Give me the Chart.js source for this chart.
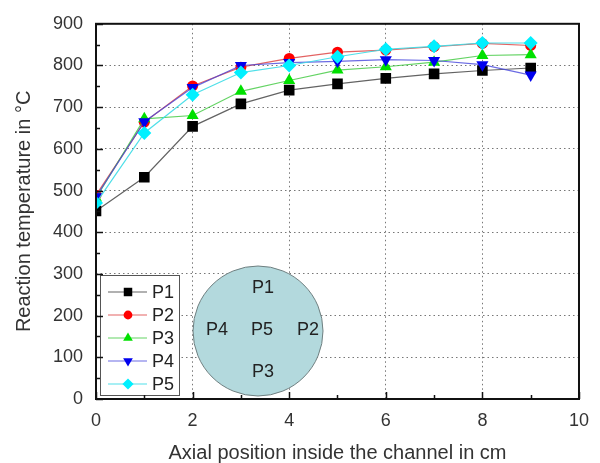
<!DOCTYPE html>
<html>
<head>
<meta charset="utf-8">
<script src="https://cdn.jsdelivr.net/npm/chart.js@4.4.1/dist/chart.umd.min.js"></script>
<style>
  html, body { margin: 0; padding: 0; background: #fff; }
  #wrap { width: 600px; height: 463px; }
</style>
</head>
<body>
<div id="wrap"><canvas id="chartTemp" width="600" height="463"></canvas></div>
<script>
// axial position (cm)
const positions = [0, 1, 2, 3, 4, 5, 6, 7, 8, 9];
const seriesNames = ["P1", "P2", "P3", "P4", "P5"];
const p1 = [451, 532, 654, 708, 741, 756, 769, 780, 788, 794];
const p2 = [489, 664, 751, 796, 817, 832, 837, 845, 853, 848];
const p3 = [482, 672, 680, 738, 764, 789, 797, 808, 824, 826];
const p4 = [485, 665, 747, 800, 807, 810, 814, 812, 802, 777];
const p5 = [470, 638, 730, 783, 800, 821, 839, 846, 854, 854];
const xTicks = [0, 2, 4, 6, 8, 10];
const yTicks = [0, 100, 200, 300, 400, 500, 600, 700, 800, 900];
const circleLabels = ["P1", "P4", "P5", "P2", "P3"];

const FONT = "'Liberation Sans', Arial, sans-serif";

const styles = [
    { line: "rgba(60,60,60,0.8)", fill: "#000000", shape: "rect", radius: 7.5, rot: 0 },
    { line: "rgba(220,60,60,0.8)", fill: "#ff0000", shape: "circle", radius: 5.5, rot: 0 },
    { line: "rgba(60,200,60,0.8)", fill: "#00e000", shape: "triangle", radius: 7, rot: 0 },
    { line: "rgba(70,70,220,0.8)", fill: "#0000ee", shape: "triangle", radius: 7, rot: 180 },
    { line: "rgba(60,220,230,0.9)", fill: "#00f0ff", shape: "rectRot", radius: 7, rot: 0 },
];

function toPoints(vals) {
    return vals.map((v, i) => ({ x: positions[i], y: v }));
}

const allSeries = [p1, p2, p3, p4, p5];
const datasets = allSeries.map((vals, i) => ({
    label: seriesNames[i],
    data: toPoints(vals),
    borderColor: styles[i].line,
    borderWidth: 1.2,
    backgroundColor: styles[i].fill,
    pointBackgroundColor: styles[i].fill,
    pointBorderColor: styles[i].fill,
    pointBorderWidth: 0,
    pointStyle: styles[i].shape,
    pointRotation: styles[i].rot,
    pointRadius: styles[i].radius,
    tension: 0,
    order: 5 - i,
}));

// circle sketch of the channel cross-section and the boxed legend
const overlays = {
    id: "overlays",
    beforeDatasetsDraw(chart) {
        const ctx = chart.ctx;
        ctx.save();
        // cross-section circle
        ctx.beginPath();
        ctx.arc(258, 331, 65, 0, Math.PI * 2);
        ctx.fillStyle = "#b3d9dd";
        ctx.fill();
        ctx.lineWidth = 1;
        ctx.strokeStyle = "#6f7f80";
        ctx.stroke();
        ctx.fillStyle = "#222";
        ctx.font = "18px " + FONT;
        ctx.textAlign = "center";
        ctx.textBaseline = "middle";
        const spots = [[263, 288], [217, 330], [262, 330], [308, 330], [263, 372]];
        circleLabels.forEach((t, i) => ctx.fillText(t, spots[i][0], spots[i][1]));

        // legend box
        ctx.fillStyle = "#fff";
        ctx.fillRect(100, 275, 79, 120);
        ctx.strokeStyle = "#555";
        ctx.lineWidth = 1;
        ctx.strokeRect(100.5, 275.5, 79, 120);
        ctx.textAlign = "left";
        ctx.font = "18px " + FONT;
        datasets.forEach((ds, i) => {
            const y = 292 + i * 23;
            ctx.beginPath();
            ctx.moveTo(108, y);
            ctx.lineTo(147, y);
            ctx.strokeStyle = ds.borderColor;
            ctx.lineWidth = 1.2;
            ctx.stroke();
            ctx.fillStyle = ds.pointBackgroundColor;
            ctx.strokeStyle = ds.pointBackgroundColor;
            Chart.helpers.drawPoint(ctx, {
                pointStyle: ds.pointStyle,
                rotation: ds.pointRotation,
                radius: 0.8 * ds.pointRadius,
                borderWidth: 0,
            }, 128, y);
            ctx.fillStyle = "#222";
            ctx.fillText(ds.label, 152, y + 1);
        });
        ctx.restore();
    },
    afterDatasetsDraw(chart) {
        const ctx = chart.ctx;
        const { left, right, top, bottom } = chart.chartArea;
        const xs = chart.scales.x;
        const ys = chart.scales.y;
        ctx.save();
        ctx.strokeStyle = "#111";
        ctx.lineWidth = 1.5;
        ctx.beginPath();
        // inward ticks on x axis
        for (let v = 0; v <= 10; v += 1) {
            const px = Math.round(xs.getPixelForValue(v)) + 0.5;
            const len = v % 2 === 0 ? 7 : 4;
            ctx.moveTo(px, bottom);
            ctx.lineTo(px, bottom - len);
        }
        // inward ticks on y axis
        for (let v = 0; v <= 900; v += 50) {
            const py = Math.round(ys.getPixelForValue(v)) + 0.5;
            const len = v % 100 === 0 ? 7 : 4;
            ctx.moveTo(left, py);
            ctx.lineTo(left + len, py);
        }
        ctx.stroke();
        // frame
        ctx.lineWidth = 2;
        ctx.strokeStyle = "#111";
        ctx.strokeRect(left, top, right - left, bottom - top);
        ctx.restore();
    },
};

const gridStyle = {
    color: "#777",
    lineWidth: 1,
    drawTicks: false,
    tickLength: 0,
};

new Chart(document.getElementById("chartTemp"), {
    type: "line",
    data: { datasets: datasets },
    options: {
        responsive: false,
        animation: false,
        layout: { padding: { top: 18, right: 16, left: 0, bottom: 0 } },
        plugins: {
            legend: { display: false },
            tooltip: { enabled: false },
        },
        scales: {
            x: {
                type: "linear",
                min: 0,
                max: 10,
                afterBuildTicks: (s) => { s.ticks = xTicks.map((v) => ({ value: v })); },
                afterFit: (s) => { s.height = 64; },
                grid: gridStyle,
                border: { display: false, dash: [1.5, 3] },
                ticks: {
                    color: "#333",
                    padding: 11,
                    font: { family: FONT, size: 18 },
                },
                title: {
                    display: true,
                    text: "Axial position inside the channel in cm",
                    color: "#333",
                    padding: { top: 0, bottom: 0 },
                    font: { family: FONT, size: 20, lineHeight: 1 },
                },
            },
            y: {
                type: "linear",
                min: 0,
                max: 900,
                afterBuildTicks: (s) => { s.ticks = yTicks.map((v) => ({ value: v })); },
                afterFit: (s) => { s.width = 96; },
                grid: gridStyle,
                border: { display: false, dash: [1.5, 3] },
                ticks: {
                    color: "#333",
                    padding: 13,
                    font: { family: FONT, size: 18 },
                },
                title: {
                    display: true,
                    text: "Reaction temperature in °C",
                    color: "#333",
                    padding: { top: 14, bottom: 0 },
                    font: { family: FONT, size: 20, lineHeight: 1 },
                },
            },
        },
    },
    plugins: [overlays],
});
</script>
</body>
</html>
